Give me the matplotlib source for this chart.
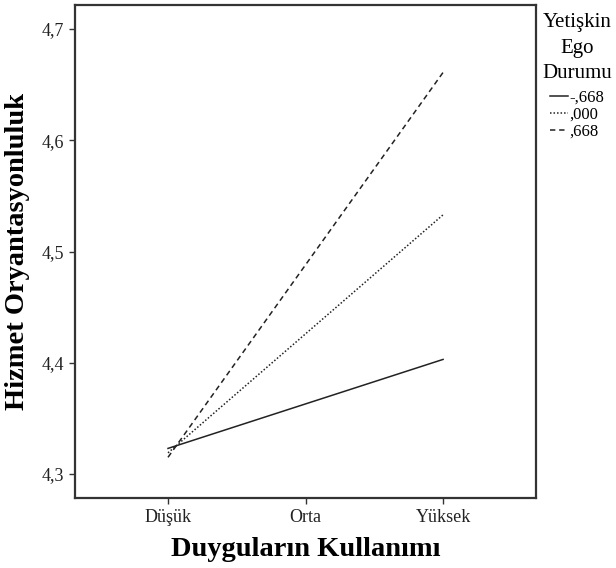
import matplotlib
matplotlib.use("Agg")
import matplotlib.pyplot as plt
from matplotlib.ticker import FuncFormatter

plt.rcParams['font.family'] = ['Liberation Serif', 'DejaVu Serif']

categories = ['Düşük', 'Orta', 'Yüksek']
ego_levels = ['-,668', ',000', ',668']
low_ego = [4.323, 4.363, 4.403]
mid_ego = [4.319, 4.426, 4.533]
high_ego = [4.315, 4.488, 4.661]
y_ticks = [4.3, 4.4, 4.5, 4.6, 4.7]

fig = plt.figure(figsize=(6.16, 5.68), dpi=100)
ax = fig.add_axes([0.1218, 0.1232, 0.7484, 0.868])

x = list(range(len(categories)))
ax.plot(x, low_ego, color='#222222', lw=1.1, ls='-', label=ego_levels[0])
ax.plot(x, mid_ego, color='#222222', lw=1.1, ls=(0, (1, 1.3)), label=ego_levels[1])
ax.plot(x, high_ego, color='#222222', lw=1.1, ls=(0, (3.5, 2.5)), label=ego_levels[2])

ax.set_xlim(-0.676, 2.676)
ax.set_ylim(4.2784, 4.7216)
ax.set_xticks(x)
ax.set_xticklabels(categories)
ax.set_yticks(y_ticks)
ax.yaxis.set_major_formatter(FuncFormatter(lambda v, p: f"{v:.1f}".replace('.', ',')))

for s in ax.spines.values():
    s.set_linewidth(1.6)
    s.set_color('#333333')
ax.tick_params(direction='out', length=4, width=1, color='#333333',
               labelsize=13, labelcolor='#222222', pad=4)

ax.set_xlabel('Duyguların Kullanımı', fontsize=20.5, fontweight='bold', labelpad=8)
ax.set_ylabel('Hizmet Oryantasyonluluk', fontsize=20.5, fontweight='bold', labelpad=8)

leg = ax.legend(title='Yetişkin\nEgo\nDurumu', loc='upper left',
                bbox_to_anchor=(0.995, 1.0), frameon=False, fontsize=12,
                title_fontsize=15, handlelength=1.1, handletextpad=0.1,
                labelspacing=0.06, borderaxespad=0.2, borderpad=0.3)
title = leg.get_title()
title.set_multialignment('center')
title.set_linespacing(1.45)
# a little more room between the title and the entries
leg._legend_box.sep = 5

fig.savefig('out.png', dpi=100)
